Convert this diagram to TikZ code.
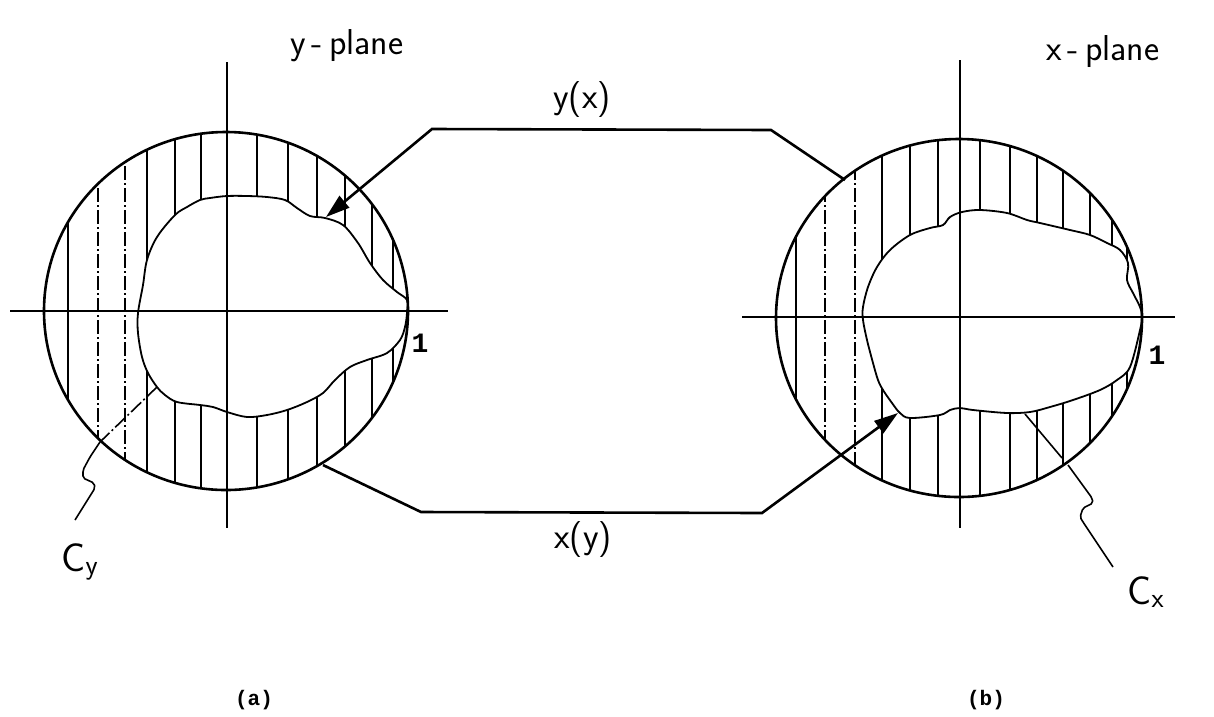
\documentclass[tikz,border=0pt]{standalone}
\usepackage{fontspec}
\setmainfont{Liberation Serif}
\setmonofont{Liberation Mono}
\usetikzlibrary{arrows.meta,calc}

\begin{document}
\begin{tikzpicture}[x=1pt,y=-1pt,
rim/.style={line width=2.6pt},
axis/.style={line width=2.4pt},
hatch/.style={line width=1.6pt},
chain/.style={hatch,dash pattern=on 14pt off 3pt on 2pt off 3pt},
edge/.style={line width=1.8pt,fill=white},
map/.style={line width=2.6pt,-{Triangle[length=24pt,width=15pt]}},
lead/.style={line width=1.6pt,rounded corners=2pt},
hand/.style={font=\sffamily\fontsize{36}{36}\selectfont,inner sep=0pt},
tag/.style={font=\ttfamily\bfseries\fontsize{21}{21}\selectfont,inner sep=0pt}]
\useasboundingbox (0,0) rectangle (1214,716);
\coordinate (oy) at (226,311);
\coordinate (ox) at (959,318);

% y-plane
\begin{scope}
\clip (oy) ellipse[x radius=182,y radius=179];
\foreach \x in {68,147,175,201,257,288,317,345,372,393}
  \draw[hatch] (\x,100)--(\x,520);
\foreach \x in {98,125}
  \draw[chain] (\x,100)--(\x,520);
\end{scope}
\draw[edge] plot[smooth cycle,tension=.55] coordinates {(407,300) (397,292) (383,280)
  (370,263) (358,243) (343,225) (325,218) (310,216) (297,208) (285,200) (267,197)
  (247,196) (227,196) (210,198) (200,200) (187,207) (175,215) (157,237) (147,260)
  (143,285) (138,313) (138,333) (142,357) (148,373) (157,387) (165,395) (177,402)
  (200,405) (213,407) (227,412) (247,417) (267,415) (287,410) (307,402) (323,393)
  (335,380) (350,367) (367,360) (387,353) (400,340) (405,327) (407,313)};
\draw[rim] (oy) ellipse[x radius=182,y radius=179];
\draw[axis] (227,62)--(227,528);
\draw[axis] (10,311)--(448,311);

% x-plane
\begin{scope}
\clip (ox) ellipse[x radius=183,y radius=179];
\foreach \x in {796,882,910,938,980,1010,1037,1063,1090,1112,1127}
  \draw[hatch] (\x,100)--(\x,520);
\foreach \x in {825,855}
  \draw[chain] (\x,100)--(\x,520);
\end{scope}
\draw[edge] plot[smooth cycle,tension=.55] coordinates {(863,307) (868,287) (877,267)
  (890,250) (910,235) (930,228) (943,225) (950,217) (962,212) (980,210) (1007,213)
  (1027,220) (1040,223) (1070,230) (1090,235) (1107,243) (1120,250) (1128,263)
  (1127,280) (1133,293) (1140,307) (1142,317) (1140,330) (1130,367) (1117,380)
  (1100,390) (1073,400) (1050,407) (1030,412) (1007,413) (973,410) (960,408)
  (950,410) (940,415) (910,418) (900,413) (892,403) (883,390) (878,380) (873,363)
  (867,340) (863,320)};
\draw[rim] (ox) ellipse[x radius=183,y radius=179];
\draw[axis] (960,60)--(960,528);
\draw[axis] (742,317)--(1175,317);

% maps between the planes
\coordinate (ya) at (845,180);
\coordinate (ytip) at (326,217);
\coordinate (xa) at (323,465);
\coordinate (xtip) at (898,413);
\draw[map] (ya)--(771,130)--(432,129)--(ytip);
\draw[map] (xa)--(421,512)--(762,513)--(xtip);

% curve labels
\draw[chain] (157,387)--(100,442);
\draw[lead] (100,442)--(90,457)--(83,470)--(83,478)--(94,483)--(95,488)--(75,520);
\draw[lead] (1025,414)--(1062,458);
\draw[lead] (1068,465)--(1092,498)--(1093,503)--(1083,508)--(1080,517)--(1083,522)--(1113,567);

\node[hand] (yx) at (582,100) {y(x)};
\node[hand] (xy) at (583,540) {x(y)};
\node[hand,anchor=west] (ypl) at (290,46) {y\,-\,plane};
\node[hand,anchor=west] (xpl) at (1046,52) {x\,-\,plane};
\node[hand,font=\sffamily\fontsize{40}{40}\selectfont] (cy) at (80,562) {C$_{\mathsf{y}}$};
\node[hand,font=\sffamily\fontsize{40}{40}\selectfont] (cx) at (1146,592) {C$_{\mathsf{x}}$};
\node[tag,font=\ttfamily\bfseries\fontsize{28}{28}\selectfont] (one1) at (420,343) {1};
\node[tag,font=\ttfamily\bfseries\fontsize{28}{28}\selectfont] (one2) at (1157,355) {1};
\node[tag] (pa) at (254,700) {(a)};
\node[tag] (pb) at (986,700) {(b)};
\end{tikzpicture}
\end{document}
